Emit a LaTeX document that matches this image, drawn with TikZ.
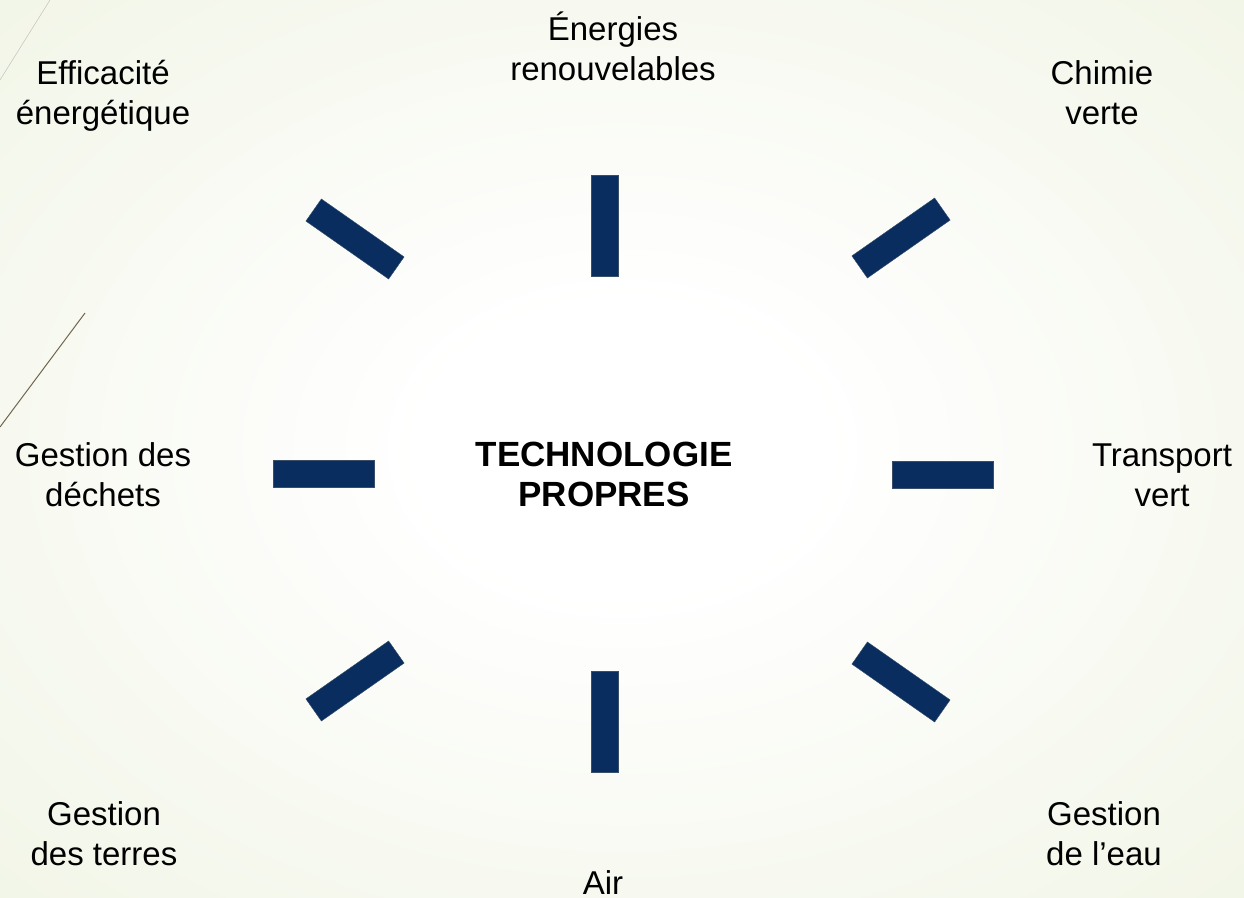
\documentclass[tikz,border=0pt]{standalone}
\usepackage{fontspec}
\setmainfont{Liberation Sans}
\usepackage{xcolor}
\definecolor{spokeblue}{RGB}{9,45,94}
\definecolor{bgedge}{RGB}{230,237,210}
\definecolor{decoline}{RGB}{112,102,78}
\pgfdeclareradialshading{bgglow}{\pgfpoint{0bp}{0bp}}{color(0bp)=(white); color(8bp)=(white); color(60bp)=(bgedge); color(72bp)=(bgedge)}
\tikzset{
  spoke/.style={fill=spokeblue, draw=spokeblue!60!gray, line width=0.4pt, minimum width=101pt, minimum height=27pt, inner sep=0pt},
  theme/.style={align=center, anchor=base, font=\fontsize{33}{40.5}\selectfont, inner sep=0pt},
}

\begin{document}
\begin{tikzpicture}[x=1pt, y=-1pt]
  \useasboundingbox (0,0) rectangle (1244,897);
  \shade[shading=bgglow] (0,0) rectangle (1244,897);
  % decorative strokes
  \draw[decoline!40, line width=0.5pt] (50,0) -- (0,80);
  \draw[decoline, line width=1pt] (85,313) -- (0,427);
  % centre
  \node[theme, font=\bfseries\fontsize{35}{40}\selectfont] (core) at (604,506) {TECHNOLOGIE\\PROPRES};
  % spokes
  \node[spoke, rotate=90]  (sN)  at (605,226) {};
  \node[spoke, rotate=35]  (sNE) at (901,238) {};
  \node[spoke]             (sE)  at (942.5,475) {};
  \node[spoke, rotate=-35] (sSE) at (901,682) {};
  \node[spoke, rotate=90]  (sS)  at (605,722) {};
  \node[spoke, rotate=35]  (sSW) at (355,681) {};
  \node[spoke]             (sW)  at (323.5,473.5) {};
  \node[spoke, rotate=-35] (sNW) at (355,239) {};
  % themes
  \node[theme] (ener) at (613,80.5)   {Énergies\\renouvelables};
  \node[theme] (chim) at (1102,124.5) {Chimie\\verte};
  \node[theme] (tran) at (1162,506.5) {Transport\\vert};
  \node[theme] (eau)  at (1104,865.5) {Gestion\\de l’eau};
  \node[theme] (air)  at (603,894)    {Air};
  \node[theme] (terr) at (104,865.5)  {Gestion\\des terres};
  \node[theme] (dech) at (103,506.5)  {Gestion des\\déchets};
  \node[theme] (effi) at (103,124.5)  {Efficacité\\énergétique};
\end{tikzpicture}
\end{document}
